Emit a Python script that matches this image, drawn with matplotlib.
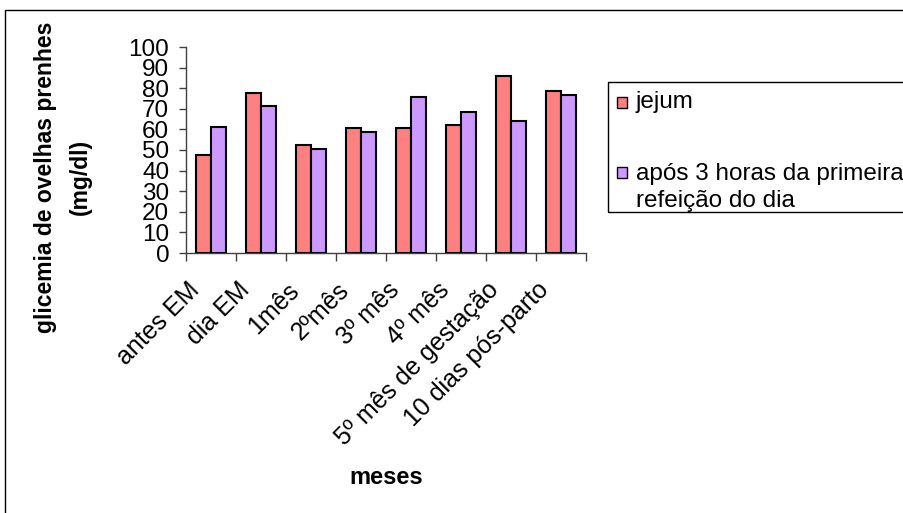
import matplotlib
matplotlib.use("Agg")
import matplotlib.pyplot as plt
import matplotlib.patches as mpatches
import matplotlib.transforms as mtransforms
import numpy as np

plt.rcParams['font.family'] = ['Liberation Sans', 'DejaVu Sans']

categories = ["antes EM", "dia EM", "1mês", "2ºmês", "3º mês", "4º mês",
              "5º mês de gestação", "10 dias pós-parto"]
jejum = [47.5, 77.8, 52.2, 60.5, 60.5, 62.2, 86.0, 78.7]
apos = [61.3, 71.4, 50.5, 58.6, 75.9, 68.6, 64.2, 76.8]
series_labels = ["jejum", "após 3 horas da primeira\nrefeição do dia"]
series_colors = ["#FF8080", "#CC99FF"]
yticks = [0, 10, 20, 30, 40, 50, 60, 70, 80, 90, 100]

W, H = 904, 513
fig = plt.figure(figsize=(W / 100, H / 100), dpi=100)
fig.patch.set_facecolor("white")


def fx(px):
    return px / W


def fy(py):
    return 1 - py / H


# outer chart frame (extends beyond right and bottom edges)
frame = mpatches.Rectangle((fx(5.5), -0.1), 2.0, 1.1 - 9.5 / H,
                           transform=fig.transFigure, fill=False,
                           edgecolor="black", linewidth=1.0, clip_on=False)
fig.add_artist(frame)

ax = fig.add_axes([fx(186), fy(253), 400 / W, 206 / H])
x = np.arange(len(categories))
bw = 0.3
ax.bar(x - bw / 2, jejum, bw, color=series_colors[0], edgecolor="black",
       linewidth=1.5, label=series_labels[0], zorder=3)
ax.bar(x + bw / 2, apos, bw, color=series_colors[1], edgecolor="black",
       linewidth=1.5, label=series_labels[1], zorder=3)

ax.set_xlim(-0.5, len(categories) - 0.5)
ax.set_ylim(0, 100)
ax.set_yticks(yticks)
ax.set_yticklabels([str(v) for v in yticks], fontsize=17.5)
ax.tick_params(axis="y", direction="out", length=5, width=1, pad=7,
               color="#404040")

ax.set_xticks(np.arange(len(categories) + 1) - 0.5)
ax.set_xticklabels([])
ax.tick_params(axis="x", direction="out", length=6, width=1, color="#404040")
ax.set_xticks(x, minor=True)
ax.set_xticklabels(categories, minor=True, rotation=45, ha="right",
                   va="top", rotation_mode="anchor", fontsize=18)
ax.tick_params(axis="x", which="minor", length=0, pad=18)
offset = mtransforms.ScaledTranslation(-24 / 100, 0, fig.dpi_scale_trans)
for lab in ax.get_xticklabels(minor=True):
    lab.set_transform(lab.get_transform() + offset)

for s in ["top", "right"]:
    ax.spines[s].set_visible(False)
for s in ["left", "bottom"]:
    ax.spines[s].set_color("#404040")
    ax.spines[s].set_linewidth(1)

fig.text(fx(386), fy(478), "meses", ha="center", va="center",
         fontsize=17, fontweight="bold")
fig.text(fx(63), fy(177), "glicemia de ovelhas prenhes\n(mg/dl)",
         ha="center", va="center", rotation=90, fontsize=16.5,
         fontweight="bold", linespacing=1.65, multialignment="center")

# legend box (extends beyond right edge, as in the original)
lg = mpatches.Rectangle((fx(607.5), fy(212)), 1.0, (212 - 81.5) / H,
                        transform=fig.transFigure, fill=False,
                        edgecolor="black", linewidth=1.0, clip_on=False)
fig.add_artist(lg)
sq_tops = [97, 167]
baselines = [[108], [180, 207]]
for lab, col, top, bls in zip(series_labels, series_colors, sq_tops, baselines):
    sq = mpatches.Rectangle((fx(617), fy(top + 11)), 10 / W, 11 / H,
                            transform=fig.transFigure, facecolor=col,
                            edgecolor="black", linewidth=1.0)
    fig.add_artist(sq)
    for line, bl in zip(lab.split("\n"), bls):
        fig.text(fx(636), fy(bl), line, ha="left", va="baseline",
                 fontsize=17.5)

fig.savefig("out.png", dpi=100)
